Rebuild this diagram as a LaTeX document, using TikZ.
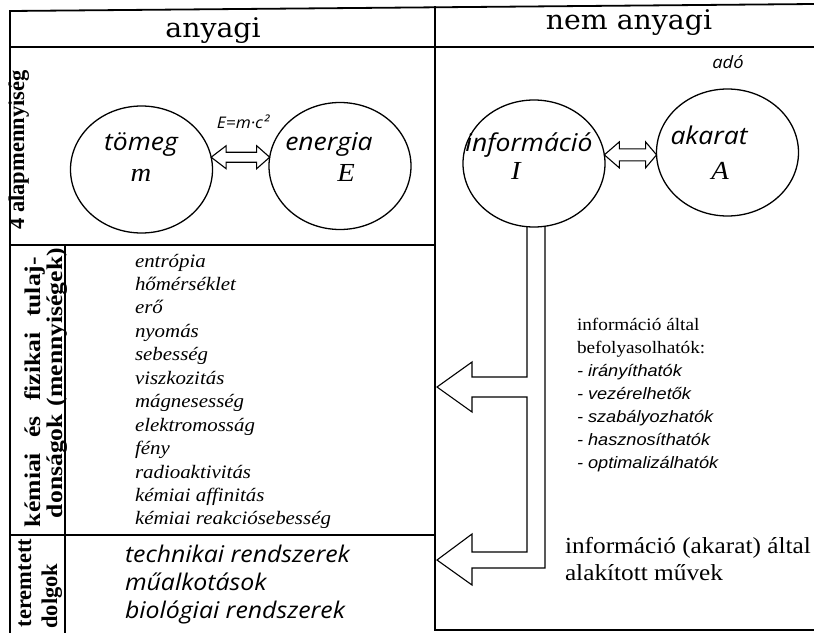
\documentclass[tikz,border=0pt]{standalone}
\usepackage{fontspec}
\setmainfont{Liberation Serif}
\newfontfamily\hdrfont{DejaVu Serif}[FakeStretch=1.05]
\newfontfamily\humfont{Open Sans}[FakeStretch=1.08]
\newfontfamily\tmsfont{Liberation Serif}[FakeStretch=1.1]
\newfontfamily\helfont{Liberation Sans}[FakeStretch=1.1]
\newfontfamily\lblfont{Liberation Serif}
\newfontfamily\lblwide{Liberation Serif}[FakeStretch=1.14]
\usetikzlibrary{shapes.geometric,calc}
\newcommand\fsz[1]{\fontsize{#1}{#1}\selectfont}

\begin{document}
\begin{tikzpicture}[x=1pt,y=-1pt,
  frame/.style={line width=1.8pt,line cap=rect},
  blob/.style={ellipse,draw,line width=1.3pt,minimum width=142pt,minimum height=127pt,inner sep=0pt,outer sep=0pt},
  hollow/.style={draw,line width=1.1pt,line join=miter},
  txt/.style={inner sep=0pt,outer sep=0pt,anchor=base},
  txtw/.style={inner sep=0pt,outer sep=0pt,anchor=base west},
  head/.style={font=\hdrfont\fsz{27}},
  hum/.style={font=\humfont\itshape\fsz{24.5}},
  sym/.style={font=\tmsfont\itshape\fsz{26}},
  qty/.style={font=\tmsfont\itshape\fsz{19}},
  note/.style={font=\tmsfont\fsz{17.5}},
  item/.style={font=\helfont\itshape\fsz{16.5}},
  big/.style={font=\tmsfont\fsz{23}},
  made/.style={font=\humfont\itshape\fsz{23}},
  side/.style={inner sep=0pt,outer sep=0pt,anchor=base,rotate=90,font=\lblfont\bfseries\fsz{22.5}},
  sidewide/.style={side,font=\lblwide\bfseries\fsz{22.5}}
]
\useasboundingbox (0,0) rectangle (814,632);

% table frame
\draw[frame] (814,4) -- (10,11) -- (10,632);
\draw[frame] (10,47) -- (814,47);
\draw[frame] (435,7) -- (435,630);
\draw[frame] (10,245) -- (435,245);
\draw[frame] (10,535) -- (435,535);
\draw[frame] (65,245) -- (65,632);
\draw[frame] (435,630) -- (814,630);

% column headings
\node[txt,head] (h1) at (213,37) {anyagi};
\node[txt,head] (h2) at (629,29) {nem anyagi};

% row headings
\node[side] (s1) at (24,150) {4 alapmennyiség};
\node[sidewide] (s2a) at (40,392) {\makebox[270pt][s]{kémiai és fizikai tulaj-}};
\node[sidewide] (s2b) at (62,383) {\makebox[270pt][s]{donságok (mennyiségek)}};
\node[side] (s3a) at (31,583) {teremtett};
\node[side] (s3b) at (57,596) {dolgok};

% the four basic quantities
\node[blob] (T) at (141.5,169.5) {};
\node[blob] (E) at (340,166) {};
\node[blob] (I) at (534,163.5) {};
\node[blob] (A) at (727.5,152.5) {};

\node[txt,hum] (tT) at (141,150) {tömeg};
\node[txt,sym] (sT) at (141,181) {m};
\node[txt,hum] (tE) at (329,150) {energia};
\node[txt,sym] (sE) at (346,181) {E};
\node[txt,hum] (tI) at (529,151) {információ};
\node[txt,sym] (sI) at (516,179) {I};
\node[txt,hum] (tA) at (709,144) {akarat};
\node[txt,sym] (sA) at (720,179) {A};

\node[txt,font=\humfont\itshape\fsz{16}] (eq) at (243,128) {E=m·c²};
\node[txt,font=\humfont\itshape\fsz{17}] (ado) at (728,68) {adó};

% hollow double arrows between the circles
\coordinate (te1) at (T.10);
\coordinate (te2) at (E.173 |- te1);
\draw[hollow] (te1) -- ++(15,-11.5) -- ++(0,6.5) -- ($(te2)+(-13,-5)$) -- ++(0,-6.5)
  -- (te2) -- ++(-13,11.5) -- ++(0,-6.5) -- ($(te1)+(15,5)$) -- ++(0,6.5) -- cycle;
\coordinate (ia1) at (I.7);
\coordinate (ia2) at (A.182 |- ia1);
\draw[hollow] (ia1) -- ++(15,-13) -- ++(0,7) -- ($(ia2)+(-11,-6)$) -- ++(0,-7)
  -- (ia2) -- ++(-11,13) -- ++(0,-7) -- ($(ia1)+(15,6)$) -- ++(0,7) -- cycle;

% hollow pipe from the information circle with two arrow heads
\coordinate (a1) at (437,387);
\coordinate (a2) at (437,560);
\draw[hollow] ($(I.south)+(-7,0)$) |- ($(a1)+(35,-10)$) -- ++(0,-15) -- (a1)
  -- ++(35,25) -- ++(0,-15) -| ($(a2)+(90,-8)$) -- ++(-55,0) -- ++(0,-18)
  -- (a2) -- ++(35,25) -- ++(0,-17) -| ($(I.south)+(11,0)$);

% physical and chemical properties
\foreach \w [count=\i from 0] in {entrópia,hőmérséklet,erő,nyomás,sebesség,viszkozitás,mágnesesség,elektromosság,fény,radioaktivitás,kémiai affinitás,kémiai reakciósebesség}
  \node[txtw,qty] (q\i) at (135,267+\i*23.45) {\w};

% what information can influence
\node[txtw,note] (n0) at (577,330) {információ által};
\node[txtw,note] (n1) at (577,353) {befolyasolhatók:};
\foreach \w [count=\i from 0] in {irányíthatók,vezérelhetők,szabályozhatók,hasznosíthatók,optimalizálhatók}
  \node[txtw,item] (m\i) at (577,376+\i*23) {- \w};

% created things
\node[txtw,made] (c0) at (125,562) {technikai rendszerek};
\node[txtw,made] (c1) at (125,590) {műalkotások};
\node[txtw,made] (c2) at (125,618) {biológiai rendszerek};
\node[txtw,big] (b0) at (565,553) {információ (akarat) által};
\node[txtw,big] (b1) at (565,580) {alakított művek};
\end{tikzpicture}
\end{document}
